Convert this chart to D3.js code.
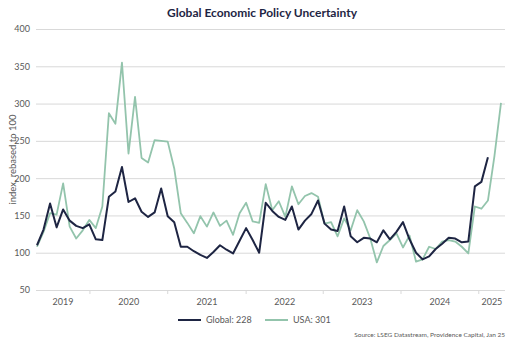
<!DOCTYPE html>
<html>
<head>
<meta charset="utf-8">
<script src="https://cdn.jsdelivr.net/npm/d3@7"></script>
<style>
  body { margin: 0; background: #fff; }
  svg { display: block; font-family: Lato, "Liberation Sans", sans-serif; }
</style>
</head>
<body>
<div id="chart"></div>
<script>
const years = ["2019", "2020", "2021", "2022", "2023", "2024", "2025"];
// point index where each new year starts on the axis
const yearBreaks = [8.1, 20, 32, 43.8, 55.7, 67.6];
const yTicks = [50, 100, 150, 200, 250, 300, 350, 400];

// monthly index values, rebased to 100
const globalEpu = [
    110, 131, 166, 134, 158, 143, 136, 133, 138, 118,
    117, 175, 182, 215, 168, 173, 155, 148, 154, 186,
    149, 141, 108, 108, 102, 97, 93, 101, 110, 104,
    99, 116, 133, 117, 100, 167, 156, 148, 144, 162,
    131, 143, 152, 170, 139, 131, 129, 162, 122, 114,
    120, 119, 114, 130, 118, 128, 141, 118, 100, 91,
    95, 105, 112, 120, 119, 114, 115, 189, 195, 228
];
const usaEpu = [
    108, 128, 153, 151, 193, 135, 119, 130, 144, 133,
    162, 287, 273, 355, 233, 309, 227, 221, 251, 250,
    249, 213, 153, 140, 126, 149, 135, 154, 136, 143,
    124, 153, 167, 142, 140, 192, 157, 169, 148, 189,
    165, 176, 180, 175, 139, 141, 122, 146, 130, 157,
    142, 119, 87, 109, 117, 126, 107, 123, 88, 91,
    108, 105, 115, 117, 115, 108, 99, 162, 159, 170,
    230, 301
];

const series = [
    { name: "Global", values: globalEpu, color: "#1e2543", width: 2 },
    { name: "USA", values: usaEpu, color: "#93c4ac", width: 1.8 }
];

const width = 529;
const height = 340;
const plot = { left: 36, right: 505, top: 29, bottom: 290 };
const textColor = "#595959";
const gridColor = "#d9d9d9";

const svg = d3.select("#chart").append("svg")
    .attr("width", width)
    .attr("height", height);

const xScale = d3.scaleLinear()
    .domain([0, usaEpu.length - 1])
    .range([plot.left + 1, plot.right - 4]);
const yScale = d3.scaleLinear()
    .domain([50, 400])
    .range([plot.bottom, plot.top]);

svg.append("text")
    .attr("x", 262)
    .attr("y", 17)
    .attr("text-anchor", "middle")
    .attr("font-size", 12)
    .attr("font-weight", "bold")
    .attr("fill", "#1e2543")
    .text("Global Economic Policy Uncertainty");

// gridlines + y labels
const yAxis = svg.append("g")
    .attr("transform", `translate(${plot.left},0)`)
    .call(d3.axisLeft(yScale)
        .tickValues(yTicks)
        .tickSize(-(plot.right - plot.left))
        .tickPadding(6));
yAxis.select(".domain").remove();
yAxis.selectAll(".tick line").attr("stroke", gridColor).attr("stroke-width", 1);
yAxis.selectAll(".tick text")
    .attr("fill", textColor)
    .attr("font-size", 9)
    .attr("font-family", "Lato, sans-serif");

svg.append("text")
    .attr("transform", `translate(13,${(plot.top + plot.bottom) / 2}) rotate(-90)`)
    .attr("text-anchor", "middle")
    .attr("dy", "0.35em")
    .attr("font-size", 9.5)
    .attr("fill", textColor)
    .text("index, rebased to 100");

// year separators on the bottom axis
svg.selectAll(".year-tick")
    .data(yearBreaks)
    .enter().append("line")
    .attr("class", "year-tick")
    .attr("x1", d => xScale(d))
    .attr("x2", d => xScale(d))
    .attr("y1", plot.bottom)
    .attr("y2", plot.bottom + 4)
    .attr("stroke", gridColor);

const edges = [plot.left, ...yearBreaks.map(d => xScale(d)), plot.right];
svg.selectAll(".year-label")
    .data(years)
    .enter().append("text")
    .attr("class", "year-label")
    .attr("x", (d, i) => (edges[i] + edges[i + 1]) / 2)
    .attr("y", plot.bottom + 15)
    .attr("text-anchor", "middle")
    .attr("font-size", 9)
    .attr("fill", textColor)
    .text(d => d);

const line = d3.line()
    .x((d, i) => xScale(i))
    .y(d => yScale(d));

// USA first so the global line sits on top
svg.selectAll(".series")
    .data(series.slice().reverse())
    .enter().append("path")
    .attr("class", "series")
    .attr("d", d => line(d.values))
    .attr("fill", "none")
    .attr("stroke", d => d.color)
    .attr("stroke-width", d => d.width)
    .attr("stroke-linejoin", "round");

const legend = svg.append("g").attr("transform", "translate(178,320)");
const legendItems = legend.selectAll("g")
    .data(series)
    .enter().append("g")
    .attr("transform", (d, i) => `translate(${i * 87},0)`);
legendItems.append("line")
    .attr("x1", 0)
    .attr("x2", 23)
    .attr("stroke", d => d.color)
    .attr("stroke-width", 2);
legendItems.append("text")
    .attr("x", 28)
    .attr("dy", "0.35em")
    .attr("font-size", 9)
    .attr("fill", textColor)
    .text(d => `${d.name}: ${d.values[d.values.length - 1]}`);

svg.append("text")
    .attr("x", plot.right)
    .attr("y", 337)
    .attr("text-anchor", "end")
    .attr("font-size", 6.5)
    .attr("fill", textColor)
    .text("Source: LSEG Datastream, Providence Capital, Jan 25");
</script>
</body>
</html>
